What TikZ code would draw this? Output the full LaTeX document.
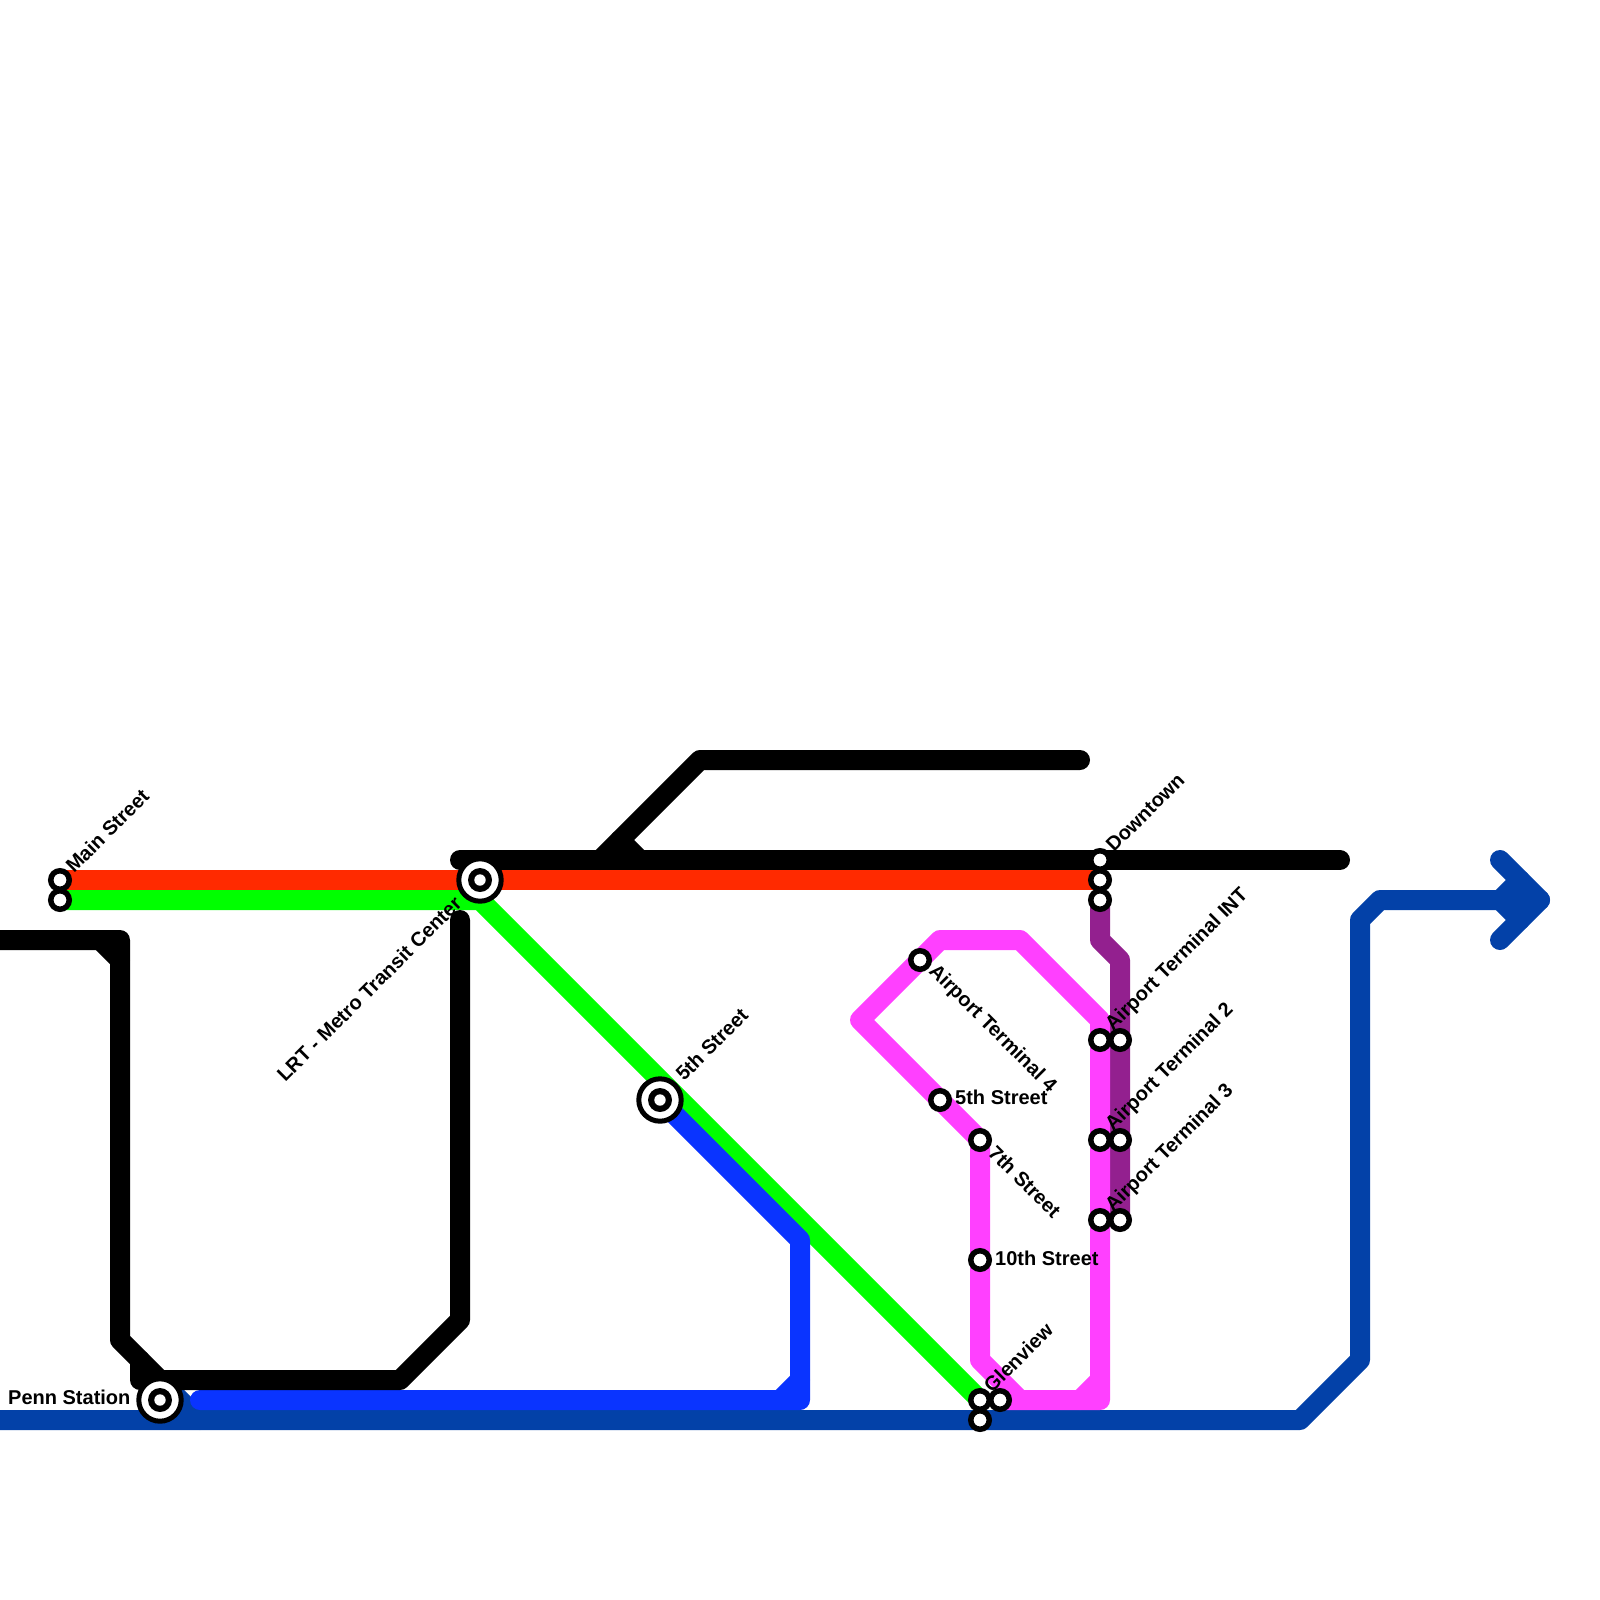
\documentclass[tikz,border=0pt]{standalone}
\usepackage{fontspec}
\setmainfont{Liberation Sans}[BoldFont={Liberation Sans Bold}]
\definecolor{cRed}{HTML}{FF2A00}
\definecolor{cGreen}{HTML}{00FF00}
\definecolor{cBlue}{HTML}{0A34FF}
\definecolor{cDark}{HTML}{0341A8}
\definecolor{cPink}{HTML}{FF40FF}
\definecolor{cPurple}{HTML}{93208F}
\tikzset{
  route/.style={line width=20pt,line cap=round,line join=round},
  stn/.style={circle,draw=black,fill=white,line width=5.5pt,minimum size=18.5pt,inner sep=0pt,outer sep=0pt},
  hubstn/.style={circle,draw=black,fill=white,line width=5pt,minimum size=42.4pt,inner sep=0pt,outer sep=0pt,
    path picture={\fill[black] (path picture bounding box.center) circle (12pt);
                  \fill[white] (path picture bounding box.center) circle (5.7pt);}},
  lbl/.style={font=\fontsize{20pt}{20pt}\selectfont\bfseries,inner sep=0pt,anchor=base west,text=black},
  lblup/.style={lbl,rotate=45},
  lbldn/.style={lbl,rotate=-45},
}
\begin{document}
\begin{tikzpicture}[x=1pt,y=-1pt]
\useasboundingbox[fill=white] (0,0) rectangle (1600,1600);
% station positions
\foreach \n/\x/\y in {pMainA/60/880,pMainB/60/900,pLRT/480/880,pFifth/660/1100,pPenn/160/1400,
  pDownA/1100/860,pDownB/1100/880,pDownC/1100/900,pT4/920/960,pFifthB/940/1100,pSeventh/980/1140,
  pTenth/980/1260,pIntA/1100/1040,pIntB/1120/1040,pTwoA/1100/1140,pTwoB/1120/1140,pThreeA/1100/1220,pThreeB/1120/1220,
  pGlenA/980/1400,pGlenB/1000/1400,pGlenC/980/1420}
  {\coordinate (\n) at (\x,\y);}
% route bends
\foreach \n/\x/\y in {
  dA/0/1420,dB/1300/1420,dC/1360/1360,dD/1360/920,dE/1380/900,dF/1540/900,dG/1500/860,dH/1500/940,dI/160/1380,dJ/200/1420,
  dK/1520/880,dL/1500/900,dM/1520/920,
  bA/200/1400,bB/800/1400,bC/800/1240,bD/780/1400,bE/800/1380,
  gA/480/900,
  mA/1020/1400,mB/1100/1400,mC/1100/1020,mD/1020/940,mE/940/940,mF/860/1020,mG/980/1360,mH/1080/1400,mI/1100/1380,
  uA/1100/940,uB/1120/960,
  kA/460/860,kB/1340/860,kC/1080/760,kD/700/760,kE/620/840,kF/640/860,kG/600/860,
  kH/0/940,kI/120/940,kJ/100/940,kK/120/960,kL/120/1340,kM/160/1380,kN/140/1360,kO/140/1380,kP/400/1380,kQ/460/1320,kR/460/920}
  {\coordinate (\n) at (\x,\y);}
% lines
\draw[route,cDark] (dA) -- (dB) -- (dC) -- (dD) -- (dE) -- (dF);
\draw[route,cDark] (dG) -- (dF) -- (dH);
\draw[route,cDark] (dK) -- (dL) -- (dM);
\draw[route,cDark] (dI) -- (dJ);
\draw[route,cPurple] (pDownC) -- (uA) -- (uB) -- (pThreeB);
\draw[route,cPink] (pGlenB) -- (mB) -- (mC) -- (mD) -- (mE) -- (mF) -- (pSeventh) -- (mG) -- (mA);
\draw[route,cPink] (mH) -- (mI);
\draw[route,cGreen] (pMainB) -- (gA) -- (pGlenA);
\draw[route,cBlue] (bA) -- (bB) -- (bC) -- (pFifth);
\draw[route,cBlue] (bD) -- (bE);
\draw[route,cRed] (pMainA) -- (pDownB);
\draw[route,black] (kA) -- (kB);
\draw[route,black] (kC) -- (kD) -- (kG);
\draw[route,black] (kE) -- (kF);
\draw[route,black] (kH) -- (kI) -- (kL) -- (kM);
\draw[route,black] (kJ) -- (kK);
\draw[route,black] (kN) -- (kO) -- (kP) -- (kQ) -- (kR);
% stations
\node[stn] (mainA) at (pMainA) {};
\node[stn] (mainB) at (pMainB) {};
\node[hubstn] (lrt) at (pLRT) {};
\node[hubstn] (fifth) at (pFifth) {};
\node[hubstn] (penn) at (pPenn) {};
\node[stn] (downA) at (pDownA) {};
\node[stn] (downB) at (pDownB) {};
\node[stn] (downC) at (pDownC) {};
\node[stn] (tFour) at (pT4) {};
\node[stn] (fifthB) at (pFifthB) {};
\node[stn] (seventh) at (pSeventh) {};
\node[stn] (tenth) at (pTenth) {};
\node[stn] (intA) at (pIntA) {};
\node[stn] (intB) at (pIntB) {};
\node[stn] (twoA) at (pTwoA) {};
\node[stn] (twoB) at (pTwoB) {};
\node[stn] (threeA) at (pThreeA) {};
\node[stn] (threeB) at (pThreeB) {};
\node[stn] (glenA) at (pGlenA) {};
\node[stn] (glenB) at (pGlenB) {};
\node[stn] (glenC) at (pGlenC) {};
% labels
\node[lblup] (tMain) at (74,874) {Main Street};
\node[lbl,rotate=45,anchor=base east] (tLRT) at (463,905) {LRT - Metro Transit Center};
\node[lblup] (tFifth) at (684,1082) {5th Street};
\node[lbl] (tPenn) at (8,1404) {Penn Station};
\node[lblup] (tDown) at (1114,853) {Downtown};
\node[lblup] (tInt) at (1113,1032) {Airport Terminal INT};
\node[lblup] (tTwo) at (1113,1132) {Airport Terminal 2};
\node[lblup] (tThree) at (1113,1213) {Airport Terminal 3};
\node[lblup] (tGlen) at (992,1394) {Glenview};
\node[lbldn] (tFourLbl) at (928,972) {Airport Terminal 4};
\node[lbldn] (tSeven) at (987,1154) {7th Street};
\node[lbl] (tFiveB) at (955,1104) {5th Street};
\node[lbl] (tTen) at (995,1265) {10th Street};
\end{tikzpicture}
\end{document}
